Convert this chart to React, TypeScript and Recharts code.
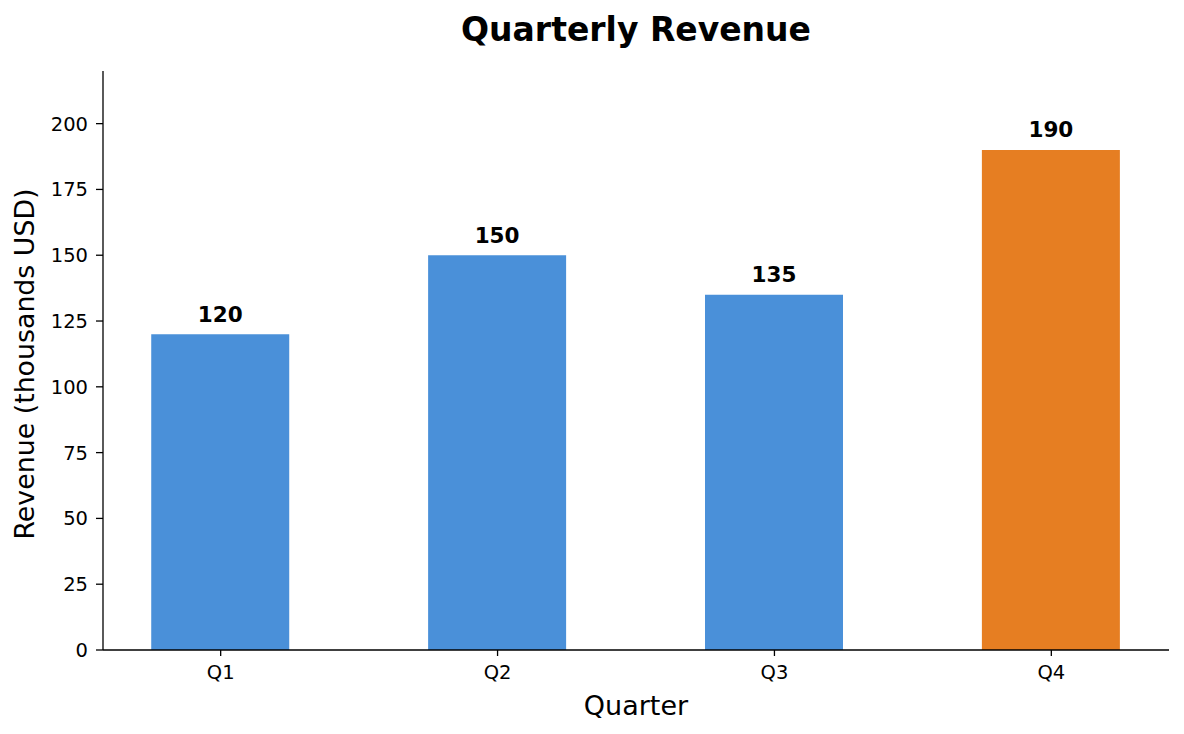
import React from "react";
import { BarChart, Bar, XAxis, YAxis, Cell, LabelList, Label } from "recharts";

const quarters = ["Q1", "Q2", "Q3", "Q4"];
const revenue = [120, 150, 135, 190];
const barColors = ["#4A90D9", "#4A90D9", "#4A90D9", "#E67E22"];
const yTicks = [0, 25, 50, 75, 100, 125, 150, 175, 200];
const xTicks = [0, 1, 2, 3];

const data = quarters.map((q, i) => ({ x: i, q, revenue: revenue[i] }));

const FONT = "'DejaVu Sans', sans-serif";

const BarValue = (props: any) => {
  const { x, y, width, value } = props;
  return (
    <text
      x={x + width / 2}
      y={y - 12.5}
      textAnchor="middle"
      fontFamily={FONT}
      fontSize={21.5}
      fontWeight="bold"
      fill="#000"
    >
      {value}
    </text>
  );
};

export default function App() {
  return (
    <div style={{ position: "absolute", left: 0, top: 0, width: 1184, height: 734, background: "#fff" }}>
      <svg width={1184} height={734} style={{ position: "absolute", left: 0, top: 0 }}>
        <text x={636} y={41} textAnchor="middle" fontFamily={FONT} fontSize={33} fontWeight="bold" fill="#000">
          Quarterly Revenue
        </text>
      </svg>
      <div style={{ position: "absolute", left: 0, top: 0 }}>
        <BarChart width={1184} height={734} data={data} margin={{ top: 71, right: 15, left: 0, bottom: 0 }}>
          <XAxis
            type="number"
            dataKey="x"
            domain={[-0.425, 3.425]}
            ticks={xTicks}
            allowDataOverflow
            tickFormatter={(v: number) => quarters[v]}
            height={84}
            tickSize={6}
            tickMargin={9}
            axisLine={{ stroke: "#000", strokeWidth: 1.3 }}
            tickLine={{ stroke: "#000", strokeWidth: 1.3 }}
            tick={{ fill: "#000", fontSize: 19.5, fontFamily: FONT }}
          >
            <Label
              content={() => (
                <text x={636} y={715} textAnchor="middle" fontFamily={FONT} fontSize={27} fill="#000">
                  Quarter
                </text>
              )}
            />
          </XAxis>
          <YAxis
            type="number"
            domain={[0, 220]}
            ticks={yTicks}
            allowDataOverflow
            width={103}
            tickSize={7}
            tickMargin={8}
            axisLine={{ stroke: "#000", strokeWidth: 1.3 }}
            tickLine={{ stroke: "#000", strokeWidth: 1.3 }}
            tick={{ fill: "#000", fontSize: 19.5, fontFamily: FONT }}
          >
            <Label
              content={() => (
                <text
                  x={34}
                  y={364}
                  textAnchor="middle"
                  fontFamily={FONT}
                  fontSize={26.8}
                  fill="#000"
                  transform="rotate(-90, 34, 364)"
                >
                  Revenue (thousands USD)
                </text>
              )}
            />
          </YAxis>
          <Bar dataKey="revenue" barSize={138} isAnimationActive={false}>
            {data.map((d, i) => (
              <Cell key={d.q} fill={barColors[i]} />
            ))}
            <LabelList dataKey="revenue" content={BarValue} />
          </Bar>
        </BarChart>
      </div>
    </div>
  );
}
